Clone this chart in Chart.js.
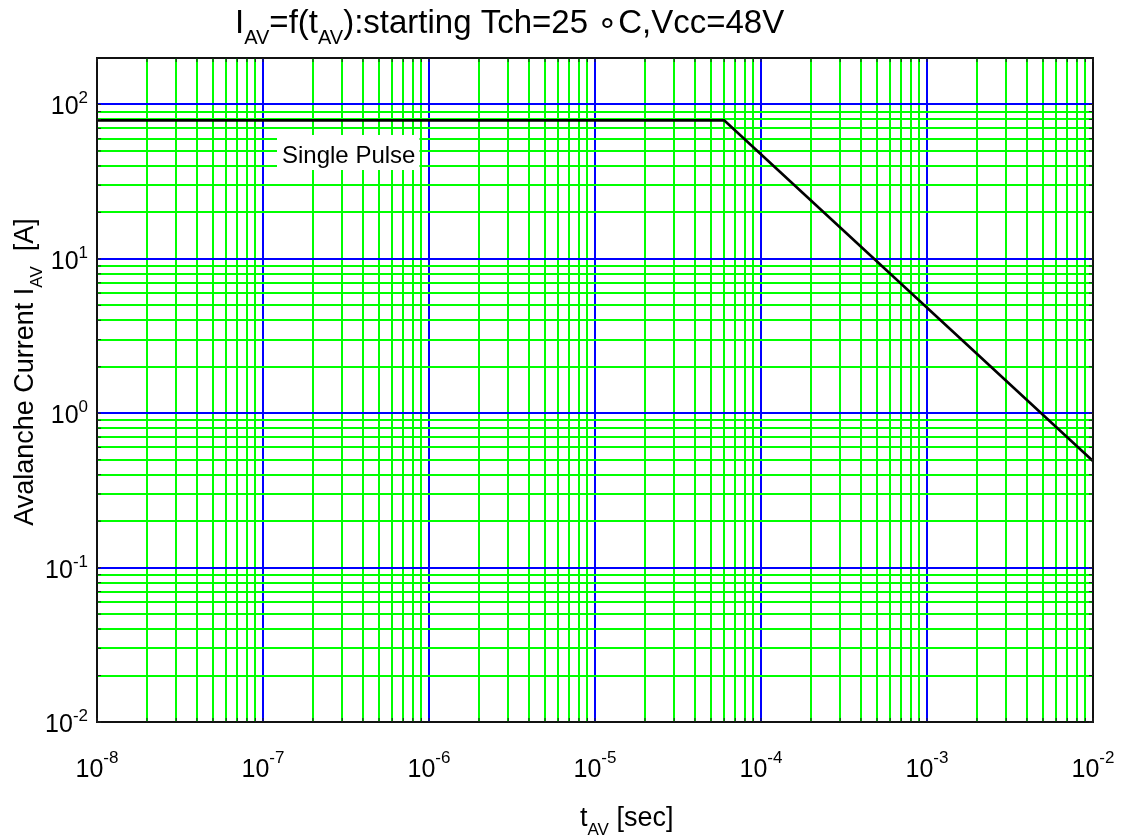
<!DOCTYPE html>
<html><head><meta charset="utf-8">
<script src="https://cdn.jsdelivr.net/npm/chart.js@4.4.0/dist/chart.umd.min.js"></script>
<style>html,body{margin:0;padding:0;background:#fff;}#wrap{width:1128px;height:838px;position:relative;}</style>
</head><body><div id="wrap"><canvas id="c" width="1128" height="838"></canvas></div>
<script>
// ---- data ----
const tAV = [1e-8, 6e-5, 1e-2];           // avalanche time [sec]
const iAV = [79, 79, 0.49];               // avalanche current [A]
const xDecades = [-8, -7, -6, -5, -4, -3, -2];
const yDecades = [-2, -1, 0, 1, 2];
const minorSteps = [2, 3, 4, 5, 6, 7, 8, 9];
const xMin = 1e-8, xMax = 1e-2, yMin = 1e-2, yMax = 200;
const titleParts = [["I","n"],["AV","s"],["=f(t","n"],["AV","s"],["):starting Tch=25 \u2218C,Vcc=48V","n"]];
const xTitleParts = [["t","n"],["AV","s"],[" [sec]","n"]];
const yTitleParts = [["Avalanche Current I","n"],["AV","s"],["  [A]","n"]];
const annotationText = "Single Pulse";

const FAM = '"Liberation Sans", Arial, Helvetica, sans-serif';
const BLUE = '#0000ff', GREEN = '#00ff00';

function logTicks(decades, max) {
  const out = [];
  decades.forEach(d => {
    const base = Math.pow(10, d);
    if (base <= max) out.push({ value: base, major: true });
    minorSteps.forEach(m => {
      const v = m * base;
      if (v < max) out.push({ value: v, major: false });
    });
  });
  return out;
}
const xTickList = logTicks(xDecades, xMax);
const yTickList = logTicks(yDecades, yMax);
const xGridColors = xTickList.map(t => t.major ? BLUE : GREEN);
const yGridColors = yTickList.map(t => t.major ? BLUE : GREEN);

function drawParts(ctx, parts, x, y, mainPx, subPx, drop, align) {
  const fonts = { n: mainPx + 'px ' + FAM, s: subPx + 'px ' + FAM };
  let total = 0;
  parts.forEach(p => { ctx.font = fonts[p[1]]; total += ctx.measureText(p[0]).width; });
  let cx = align === 'center' ? x - total / 2 : (align === 'right' ? x - total : x);
  ctx.textAlign = 'left';
  ctx.textBaseline = 'alphabetic';
  parts.forEach(p => {
    ctx.font = fonts[p[1]];
    ctx.fillText(p[0], cx, p[1] === 's' ? y + drop : y);
    cx += ctx.measureText(p[0]).width;
  });
  return total;
}

function drawPow(ctx, exp, x, y, align, expLift) {
  ctx.font = '25px ' + FAM;
  const w1 = ctx.measureText('10').width;
  ctx.font = '17px ' + FAM;
  const es = String(exp);
  const w2 = ctx.measureText(es).width;
  const total = w1 + w2;
  let sx = align === 'center' ? x - total / 2 : x - total;
  ctx.textAlign = 'left';
  ctx.textBaseline = 'alphabetic';
  ctx.font = '25px ' + FAM;
  ctx.fillText('10', sx, y);
  ctx.font = '17px ' + FAM;
  ctx.fillText(es, sx + w1, y - expLift);
}

const decorPlugin = {
  id: 'decor',
  afterDatasetsDraw(chart) {
    const ctx = chart.ctx, a = chart.chartArea;
    const xs = chart.scales.x, ys = chart.scales.y;
    ctx.save();
    // annotation with white background
    ctx.font = '24px ' + FAM;
    const tx = 282, tb = 163;
    const w = ctx.measureText(annotationText).width;
    ctx.fillStyle = '#fff';
    ctx.fillRect(tx - 5, tb - 28, w + 9, 35);
    ctx.fillStyle = '#000';
    ctx.textAlign = 'left';
    ctx.textBaseline = 'alphabetic';
    ctx.fillText(annotationText, tx, tb);
    // frame
    const L = Math.round(a.left), R = Math.round(a.right);
    const T = Math.round(a.top), B = Math.round(a.bottom);
    ctx.strokeStyle = '#111';
    ctx.lineWidth = 2;
    ctx.strokeRect(L, T, R - L, B - T);
    // short inward tick marks
    ctx.lineWidth = 1;
    ctx.strokeStyle = '#222';
    ctx.beginPath();
    xs.ticks.forEach(t => {
      const px = xs.getPixelForValue(t.value);
      ctx.moveTo(px, B); ctx.lineTo(px, B - 4);
      ctx.moveTo(px, T); ctx.lineTo(px, T + 4);
    });
    ys.ticks.forEach(t => {
      const py = ys.getPixelForValue(t.value);
      ctx.moveTo(L, py); ctx.lineTo(L + 4, py);
      ctx.moveTo(R, py); ctx.lineTo(R - 4, py);
    });
    ctx.stroke();
    ctx.restore();
  },
  afterDraw(chart) {
    const ctx = chart.ctx, a = chart.chartArea;
    const xs = chart.scales.x, ys = chart.scales.y;
    ctx.save();
    ctx.fillStyle = '#000';
    xDecades.forEach(d => drawPow(ctx, d, xs.getPixelForValue(Math.pow(10, d)), a.bottom + 55, 'center', 14));
    yDecades.forEach(d => drawPow(ctx, d, a.left - 9, ys.getPixelForValue(Math.pow(10, d)) + 10, 'right', 11));
    drawParts(ctx, titleParts, 235, 33, 33, 20, 11, 'left');
    drawParts(ctx, xTitleParts, 580, 826, 27, 17, 9, 'left');
    ctx.translate(33, 372);
    ctx.rotate(-Math.PI / 2);
    drawParts(ctx, yTitleParts, 0, 0, 27, 17, 9, 'center');
    ctx.restore();
  }
};

new Chart(document.getElementById('c'), {
  type: 'line',
  data: {
    datasets: [{
      data: tAV.map((t, i) => ({ x: t, y: iAV[i] })),
      borderColor: '#000',
      borderWidth: 2.8,
      pointRadius: 0,
      tension: 0,
      fill: false
    }]
  },
  options: {
    responsive: false,
    animation: false,
    devicePixelRatio: 1,
    layout: { padding: { left: 97, top: 58, right: 35, bottom: 116 } },
    plugins: { legend: { display: false }, tooltip: { enabled: false }, title: { display: false } },
    scales: {
      x: {
        type: 'logarithmic', min: xMin, max: xMax,
        afterBuildTicks: s => { s.ticks = xTickList.map(t => ({ value: t.value, major: t.major })); },
        afterFit: s => { s.height = 0; },
        ticks: { display: false, callback: () => '' },
        grid: { color: xGridColors, lineWidth: 2, drawTicks: false },
        border: { display: false }
      },
      y: {
        type: 'logarithmic', min: yMin, max: yMax,
        afterBuildTicks: s => { s.ticks = yTickList.map(t => ({ value: t.value, major: t.major })); },
        afterFit: s => { s.width = 0; },
        ticks: { display: false, callback: () => '' },
        grid: { color: yGridColors, lineWidth: 2, drawTicks: false },
        border: { display: false }
      }
    }
  },
  plugins: [decorPlugin]
});
</script></body></html>
